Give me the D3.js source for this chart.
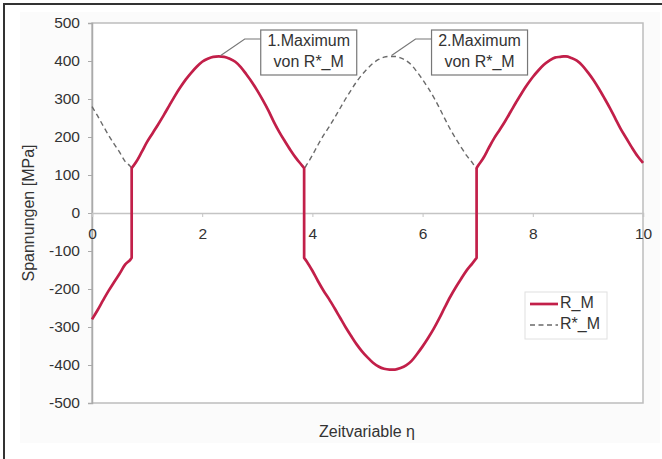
<!DOCTYPE html>
<html>
<head>
<meta charset="utf-8">
<script src="https://cdn.jsdelivr.net/npm/d3@7"></script>
<style>
  html, body { margin: 0; padding: 0; background: #fff; }
  svg { display: block; font-family: "Liberation Sans", Arial, sans-serif; }
</style>
</head>
<body>
<svg id="chart" width="662" height="459"></svg>
<script>
// Time variable eta (jump positions listed twice)
const eta = [
  0.0, 0.1, 0.2, 0.3, 0.4, 0.5, 0.6, 0.7, 0.72, 0.72,
  0.8, 0.9, 1.0, 1.1, 1.2, 1.3, 1.4, 1.5, 1.6, 1.7, 1.8, 1.9, 2.0, 2.1, 2.2, 2.3,
  2.4, 2.5, 2.6, 2.7, 2.8, 2.9, 3.0, 3.1, 3.2, 3.3, 3.4, 3.5, 3.6, 3.7, 3.8, 3.85, 3.85,
  3.9, 4.0, 4.1, 4.2, 4.3, 4.4, 4.5, 4.6, 4.7, 4.8, 4.9, 5.0, 5.1, 5.2, 5.3, 5.4,
  5.5, 5.6, 5.7, 5.8, 5.9, 6.0, 6.1, 6.2, 6.3, 6.4, 6.5, 6.6, 6.7, 6.8, 6.9, 6.98, 6.98,
  7.0, 7.1, 7.2, 7.3, 7.4, 7.5, 7.6, 7.7, 7.8, 7.9, 8.0, 8.1, 8.2, 8.3, 8.4, 8.5, 8.56,
  8.6, 8.7, 8.8, 8.9, 9.0, 9.1, 9.2, 9.3, 9.4, 9.5, 9.6, 9.7, 9.8, 9.9, 10.0
];

// R*_M [MPa]
const rStarM = [
  280, 256, 230, 205, 182, 160, 136, 122, 118, 118,
  134, 160, 187, 210, 233, 257, 282, 307, 330, 351, 369, 385, 398, 406, 411, 412,
  411, 406, 398, 384, 365, 345, 322, 297, 270, 240, 213, 189, 166, 145, 127, 118, 118,
  128, 152, 179, 204, 226, 250, 275, 300, 323, 345, 364, 380, 394, 404, 410, 412,
  412, 408, 401, 389, 371, 351, 329, 305, 278, 249, 221, 196, 173, 151, 133, 118, 118,
  123, 144, 171, 197, 219, 242, 267, 292, 316, 338, 358, 375, 390, 401, 409, 411, 412,
  412, 408, 401, 388, 370, 350, 327, 302, 276, 248, 220, 196, 172, 150, 132
];

// R_M [MPa]
const rM = [
  -280, -256, -230, -205, -182, -160, -136, -122, -118, 118,
  134, 160, 187, 210, 233, 257, 282, 307, 330, 351, 369, 385, 398, 406, 411, 412,
  411, 406, 398, 384, 365, 345, 322, 297, 270, 240, 213, 189, 166, 145, 127, 118, -118,
  -128, -152, -179, -204, -226, -250, -275, -300, -323, -345, -364, -380, -394, -404, -410, -412,
  -412, -408, -401, -389, -371, -351, -329, -305, -278, -249, -221, -196, -173, -151, -133, -118, 118,
  123, 144, 171, 197, 219, 242, 267, 292, 316, 338, 358, 375, 390, 401, 409, 411, 412,
  412, 408, 401, 388, 370, 350, 327, 302, 276, 248, 220, 196, 172, 150, 132
];

const xTicks = [0, 2, 4, 6, 8, 10];
const yTicks = [-500, -400, -300, -200, -100, 0, 100, 200, 300, 400, 500];

const seriesNames = ["R_M", "R*_M"];
const yTitle = "Spannungen [MPa]";
const xTitle = "Zeitvariable \u03b7";

// Annotated maxima of R*_M
const annotations = [
  { eta: 2.3, value: 412, lines: ["1.Maximum", "von R*_M"] },
  { eta: 5.4, value: 412, lines: ["2.Maximum", "von R*_M"] }
];

const FONT = "Liberation Sans, Arial, sans-serif";
const RED = "#c21f49";
const GREY = "#6a6a6a";

const svg = d3.select("#chart");
const plot = { left: 92, right: 643, top: 23, bottom: 403 };

const x = d3.scaleLinear().domain([0, 10]).range([plot.left, plot.right]);
const y = d3.scaleLinear().domain([-500, 500]).range([plot.bottom, plot.top]);

// faint chart-area background and outer frame (left and top edges)
svg.append("rect").attr("x", 20).attr("y", 12).attr("width", 640).attr("height", 431)
  .attr("fill", "#fbfbfb");
svg.append("line").attr("x1", 4).attr("x2", 4).attr("y1", 3).attr("y2", 459)
  .attr("stroke", "#333").attr("stroke-width", 2);
svg.append("line").attr("x1", 3).attr("x2", 662).attr("y1", 4).attr("y2", 4)
  .attr("stroke", "#333").attr("stroke-width", 2);

// plot area
svg.append("rect")
  .attr("x", plot.left).attr("y", plot.top)
  .attr("width", plot.right - plot.left).attr("height", plot.bottom - plot.top)
  .attr("fill", "#fff").attr("stroke", "#bdbdbd").attr("stroke-width", 1.5);

// y axis
const yAxis = svg.append("g")
  .attr("transform", `translate(${plot.left},0)`)
  .call(d3.axisLeft(y).tickValues(yTicks).tickSize(4).tickPadding(8).tickFormat(d => String(d)));
yAxis.select(".domain").attr("stroke", "#aaa").attr("stroke-width", 1.5);
yAxis.selectAll(".tick line").attr("stroke", "#aaa");
yAxis.selectAll(".tick text").attr("font-size", 15.5).attr("fill", "#333").attr("font-family", FONT);

// x axis at zero line, labels placed below it
const xAxis = svg.append("g")
  .attr("transform", `translate(0,${y(0)})`)
  .call(d3.axisBottom(x).tickValues(xTicks).tickSize(4).tickPadding(11).tickFormat(d => String(d)));
xAxis.select(".domain").attr("stroke", "#c4c4c4").attr("stroke-width", 1.5);
xAxis.selectAll(".tick line").attr("stroke", "#c4c4c4");
xAxis.selectAll(".tick text").attr("font-size", 15.5).attr("fill", "#333").attr("font-family", FONT);

// axis titles
svg.append("text")
  .attr("transform", `translate(30,${(plot.top + plot.bottom) / 2}) rotate(-90)`)
  .attr("text-anchor", "middle").attr("dominant-baseline", "middle")
  .attr("font-size", 16).attr("fill", "#333").text(yTitle);
svg.append("text")
  .attr("x", 367).attr("y", 433)
  .attr("text-anchor", "middle").attr("dominant-baseline", "middle")
  .attr("font-size", 16).attr("fill", "#333").text(xTitle);

const pts = eta.map((e, i) => ({ e, s: rStarM[i], r: rM[i] }));

// R*_M dashed
svg.append("path")
  .datum(pts)
  .attr("fill", "none").attr("stroke", GREY).attr("stroke-width", 1.4)
  .attr("stroke-dasharray", "5,3.5")
  .attr("d", d3.line().x(d => x(d.e)).y(d => y(d.s)).curve(d3.curveMonotoneX));

// R_M solid: smooth pieces joined by vertical jumps
const pieces = [];
let cur = [pts[0]];
for (let i = 1; i < pts.length; i++) {
  if (pts[i].e === pts[i - 1].e) { pieces.push(cur); cur = [pts[i]]; }
  else cur.push(pts[i]);
}
pieces.push(cur);
const smooth = d3.line().x(d => x(d.e)).y(d => y(d.r)).curve(d3.curveMonotoneX);
const dR = pieces.map((p, i) => {
  const s = smooth(p);
  return i === 0 ? s : "L" + s.slice(1);
}).join("");
svg.append("path")
  .attr("fill", "none").attr("stroke", RED).attr("stroke-width", 2.7)
  .attr("stroke-linejoin", "round")
  .attr("d", dR);

// annotations
annotations.forEach(a => {
  const px = x(a.eta), py = y(a.value);
  const bx = px + 42, bw = 96, by = 30, bh = 45;
  svg.append("polyline")
    .attr("points", `${bx},39 ${bx - 16},39 ${px + 2},${py - 1}`)
    .attr("fill", "none").attr("stroke", "#777").attr("stroke-width", 1.2);
  svg.append("rect").attr("x", bx).attr("y", by).attr("width", bw).attr("height", bh)
    .attr("fill", "#fff").attr("stroke", "#777").attr("stroke-width", 1.2);
  a.lines.forEach((t, i) => {
    svg.append("text")
      .attr("x", bx + bw / 2).attr("y", by + 12 + i * 21)
      .attr("text-anchor", "middle").attr("dominant-baseline", "middle")
      .attr("font-size", 16).attr("fill", "#333").text(t);
  });
});

// legend
const lg = svg.append("g");
lg.append("rect").attr("x", 525).attr("y", 292).attr("width", 82).attr("height", 47)
  .attr("fill", "#fff").attr("stroke", "#e0e0e0");
lg.append("line").attr("x1", 530).attr("x2", 558).attr("y1", 304).attr("y2", 304)
  .attr("stroke", RED).attr("stroke-width", 2.7);
lg.append("line").attr("x1", 530).attr("x2", 558).attr("y1", 325).attr("y2", 325)
  .attr("stroke", GREY).attr("stroke-width", 1.4).attr("stroke-dasharray", "5,3.5");
seriesNames.forEach((n, i) => {
  lg.append("text").attr("x", 560).attr("y", 304 + i * 21)
    .attr("dominant-baseline", "middle").attr("font-size", 16).attr("fill", "#333").text(n);
});
</script>
</body>
</html>
